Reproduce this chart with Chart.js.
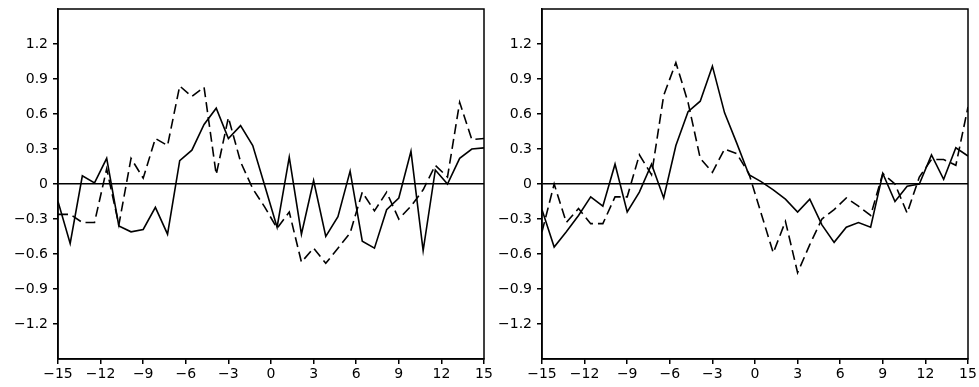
<!DOCTYPE html>
<html lang="en">
<head>
  <meta charset="UTF-8" />
  <title>Lag composites</title>
  <script src="https://cdn.jsdelivr.net/npm/chart.js"></script>
  <style>
    body {
      margin: 0;
      background: white;
      width: 979px;
      height: 387px;
      overflow: hidden;
      position: relative;
    }
    canvas {
      position: absolute;
      top: 0;
    }
    #leftChart { left: 0; }
    #rightChart { left: 490px; }
  </style>
</head>
<body>
  <canvas id="leftChart" width="500" height="387"></canvas>
  <canvas id="rightChart" width="489" height="387"></canvas>

  <script>
    // 36 points evenly spread over lags -15 .. 15
    const lags = Array.from({ length: 36 }, (_, k) => -15 + k * 30 / 35);
    const xTicks = [-15, -12, -9, -6, -3, 0, 3, 6, 9, 12, 15];
    const yTicks = [-1.2, -0.9, -0.6, -0.3, 0, 0.3, 0.6, 0.9, 1.2];

    const leftSolid = [
      -0.15, -0.51, 0.07, 0.01, 0.22, -0.36, -0.41, -0.39, -0.20, -0.43,
      0.20, 0.29, 0.51, 0.65, 0.39, 0.50, 0.33, -0.02, -0.37, 0.23,
      -0.43, 0.03, -0.45, -0.28, 0.11, -0.49, -0.55, -0.22, -0.12, 0.28,
      -0.57, 0.12, 0.00, 0.22, 0.30, 0.31
    ];
    const leftDashed = [
      -0.26, -0.26, -0.33, -0.33, 0.13, -0.35, 0.22, 0.05, 0.39, 0.33,
      0.84, 0.75, 0.83, 0.08, 0.57, 0.19, -0.04, -0.20, -0.38, -0.24,
      -0.67, -0.55, -0.68, -0.55, -0.42, -0.07, -0.23, -0.07, -0.30, -0.19,
      -0.05, 0.16, 0.06, 0.70, 0.38, 0.39
    ];
    const rightSolid = [
      -0.22, -0.54, -0.41, -0.27, -0.11, -0.19, 0.17, -0.24, -0.07, 0.17,
      -0.12, 0.33, 0.62, 0.71, 1.01, 0.61, 0.35, 0.08, 0.02, -0.05,
      -0.13, -0.24, -0.13, -0.35, -0.50, -0.37, -0.33, -0.37, 0.09, -0.15,
      -0.02, 0.00, 0.25, 0.04, 0.31, 0.24
    ];
    const rightDashed = [
      -0.41, 0.00, -0.33, -0.21, -0.34, -0.34, -0.11, -0.11, 0.25, 0.08,
      0.76, 1.04, 0.70, 0.22, 0.10, 0.30, 0.26, 0.09, -0.25, -0.59,
      -0.32, -0.76, -0.52, -0.30, -0.22, -0.12, -0.19, -0.27, 0.09, 0.00,
      -0.25, 0.06, 0.21, 0.21, 0.16, 0.66
    ];

    const FONT = { family: "'DejaVu Sans', sans-serif", size: 14 };

    function fmt(v) {
      let s = Math.abs(v) < 1e-9 ? "0" : (Number.isInteger(v) ? String(v) : v.toFixed(1));
      return s.replace("-", "\u2212");
    }

    // box around the plot area
    const frame = {
      id: "frame",
      afterDraw(chart) {
        const a = chart.chartArea;
        const ctx = chart.ctx;
        ctx.save();
        ctx.strokeStyle = "#000";
        ctx.lineWidth = 1.5;
        ctx.strokeRect(a.left, a.top, a.right - a.left, a.bottom - a.top);
        ctx.restore();
      }
    };

    function makeChart(id, solid, dashed, yWidth, padRight) {
      const ctx = document.getElementById(id).getContext("2d");
      return new Chart(ctx, {
        type: "line",
        data: {
          datasets: [
            {
              data: lags.map((x, i) => ({ x: x, y: solid[i] })),
              borderColor: "#000",
              borderWidth: 1.6,
              pointRadius: 0,
              tension: 0
            },
            {
              data: lags.map((x, i) => ({ x: x, y: dashed[i] })),
              borderColor: "#000",
              borderWidth: 1.6,
              borderDash: [10, 5],
              pointRadius: 0,
              tension: 0
            }
          ]
        },
        options: {
          responsive: false,
          animation: false,
          layout: { padding: { top: 9, right: padRight, left: 0, bottom: 0 } },
          plugins: { legend: { display: false }, tooltip: { enabled: false } },
          scales: {
            x: {
              type: "linear",
              min: -15,
              max: 15,
              afterBuildTicks: s => { s.ticks = xTicks.map(v => ({ value: v })); },
              afterFit: s => { s.height = 28; s.paddingLeft = 0; s.paddingRight = 0; },
              grid: { drawOnChartArea: false, drawTicks: true, tickLength: 5, tickColor: "#000", lineWidth: 1.5 },
              border: { color: "#000", width: 1.5 },
              ticks: { color: "#000", font: FONT, padding: 2, maxRotation: 0, callback: v => fmt(v) }
            },
            y: {
              min: -1.5,
              max: 1.5,
              afterBuildTicks: s => { s.ticks = yTicks.map(v => ({ value: v })); },
              afterFit: s => { s.width = yWidth; s.paddingTop = 0; s.paddingBottom = 0; },
              grid: {
                drawTicks: true,
                tickLength: 5,
                tickColor: "#000",
                lineWidth: 1.5,
                color: c => (c.tick && Math.abs(c.tick.value) < 1e-9 ? "#000" : "rgba(0,0,0,0)")
              },
              border: { color: "#000", width: 1.5 },
              ticks: { color: "#000", font: FONT, padding: 5, callback: v => fmt(v) }
            }
          }
        },
        plugins: [frame]
      });
    }

    makeChart("leftChart", leftSolid, leftDashed, 58, 16);
    makeChart("rightChart", rightSolid, rightDashed, 52, 11);
  </script>
</body>
</html>
